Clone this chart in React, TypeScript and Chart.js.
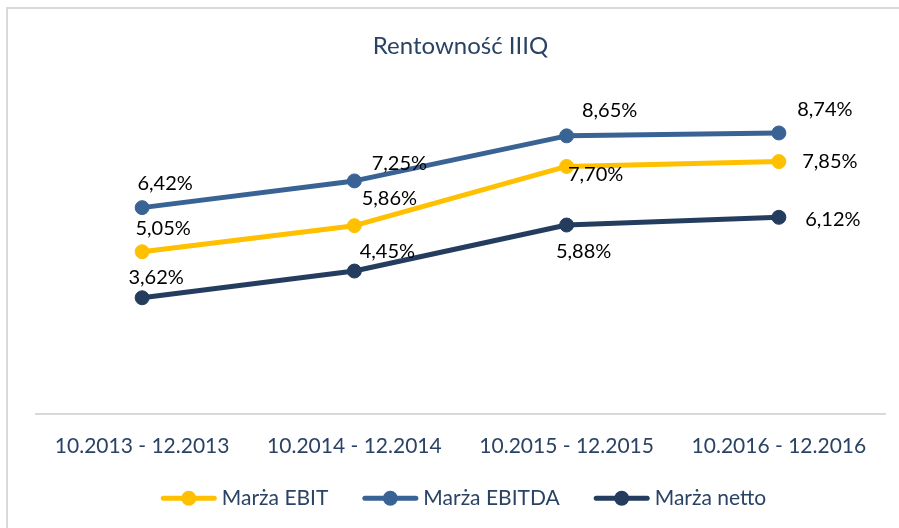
import React, { useEffect, useRef } from "react";
import { Chart, registerables } from "chart.js";

Chart.register(...registerables);

const TITLE = "Rentowność IIIQ";
const categories = ["10.2013 - 12.2013", "10.2014 - 12.2014", "10.2015 - 12.2015", "10.2016 - 12.2016"];
const seriesNames = ["Marża EBIT", "Marża EBITDA", "Marża netto"];
const ebit = [5.05, 5.86, 7.7, 7.85];
const ebitda = [6.42, 7.25, 8.65, 8.74];
const netto = [3.62, 4.45, 5.88, 6.12];
const yMin = 0;
const yMax = 10;

// styles
const FAMILY = 'Lato, "Open Sans", sans-serif';
const COLORS = ["#ffc000", "#3a6395", "#243d5e"];
const TEXT_NAVY = "#2a4365";
// label offsets (px) from each point, per series
const LABEL_OFFSETS = [
  [[21, -23], [35, -27], [29, 8], [51, 0]],
  [[23, -24], [45, -17], [43, -25], [46, -23]],
  [[14, -20], [33, -20], [17, 27], [54, 2]],
];

const fmt = (v: number) => v.toFixed(2).replace(".", ",") + "%";

export default function App() {
  const ref = useRef<HTMLCanvasElement>(null);

  useEffect(() => {
    const canvas = ref.current!;
    const seriesData = [ebit, ebitda, netto];

    const labelPlugin = {
      id: "pointLabels",
      afterDatasetsDraw(chart: any) {
        const ctx = chart.ctx;
        ctx.save();
        ctx.font = `20px ${FAMILY}`;
        ctx.fillStyle = "#000000";
        ctx.textAlign = "center";
        ctx.textBaseline = "middle";
        chart.data.datasets.forEach((ds: any, di: number) => {
          const meta = chart.getDatasetMeta(di);
          meta.data.forEach((el: any, i: number) => {
            const [dx, dy] = LABEL_OFFSETS[di][i];
            ctx.fillText(fmt(ds.data[i]), el.x + dx, el.y + dy);
          });
        });
        ctx.restore();
      },
    };

    const legendPlugin = {
      id: "customLegend",
      afterDraw(chart: any) {
        const ctx = chart.ctx;
        ctx.save();
        ctx.font = `21px ${FAMILY}`;
        const lineW = 56;
        const gapText = 5;
        const itemGap = 34;
        const widths = seriesNames.map((n) => lineW + gapText + ctx.measureText(n).width);
        const total = widths.reduce((a, b) => a + b, 0) + itemGap * (seriesNames.length - 1);
        let x = (chart.chartArea.left + chart.chartArea.right) / 2 - total / 2 + 3;
        const y = chart.chartArea.bottom + 84;
        seriesNames.forEach((n, i) => {
          ctx.strokeStyle = COLORS[i];
          ctx.fillStyle = COLORS[i];
          ctx.lineWidth = 5;
          ctx.lineCap = "round";
          ctx.beginPath();
          ctx.moveTo(x + 2.5, y);
          ctx.lineTo(x + lineW - 2.5, y);
          ctx.stroke();
          ctx.beginPath();
          ctx.arc(x + lineW / 2, y, 7.5, 0, Math.PI * 2);
          ctx.fill();
          ctx.fillStyle = TEXT_NAVY;
          ctx.textAlign = "left";
          ctx.textBaseline = "middle";
          ctx.fillText(n, x + lineW + gapText, y);
          x += widths[i] + itemGap;
        });
        ctx.restore();
      },
    };

    const chart = new Chart(canvas, {
      type: "line",
      data: {
        labels: categories,
        datasets: seriesData.map((d, i) => ({
          label: seriesNames[i],
          data: d,
          borderColor: COLORS[i],
          backgroundColor: COLORS[i],
          borderWidth: 5,
          borderCapStyle: "round",
          borderJoinStyle: "round",
          tension: 0,
          pointRadius: 7,
          pointBorderWidth: 1,
          pointBackgroundColor: COLORS[i],
          pointBorderColor: COLORS[i],
          clip: false,
        })),
      },
      options: {
        animation: false,
        responsive: true,
        maintainAspectRatio: false,
        layout: { padding: { left: 36, right: 14, top: 0, bottom: 58.5 } },
        plugins: {
          legend: { display: false },
          tooltip: { enabled: false },
          title: {
            display: true,
            text: TITLE,
            color: TEXT_NAVY,
            font: { family: FAMILY, size: 24, weight: "normal", lineHeight: 1.2 },
            padding: { top: 31.4, bottom: 32.2 },
          },
        },
        scales: {
          x: {
            offset: true,
            grid: { display: false },
            border: { display: true, color: "#d9d9d9", width: 2 },
            ticks: {
              padding: 11,
              color: TEXT_NAVY,
              font: { family: FAMILY, size: 21, lineHeight: 1.2 },
              maxRotation: 0,
            },
          },
          y: { display: false, min: yMin, max: yMax },
        },
      },
      plugins: [labelPlugin, legendPlugin],
    } as any);
    return () => chart.destroy();
  }, []);

  return (
    <div style={{ position: "absolute", left: 0, top: 0, width: 899, height: 528, background: "#ffffff" }}>
      <div
        style={{
          position: "absolute",
          left: 6,
          top: 7,
          right: 0,
          bottom: 0,
          borderTop: "2px solid #d9d9d9",
          borderLeft: "2px solid #d9d9d9",
        }}
      />
      <div style={{ position: "absolute", left: 0, top: 0, width: 899, height: 528 }}>
        <canvas ref={ref} />
      </div>
    </div>
  );
}
